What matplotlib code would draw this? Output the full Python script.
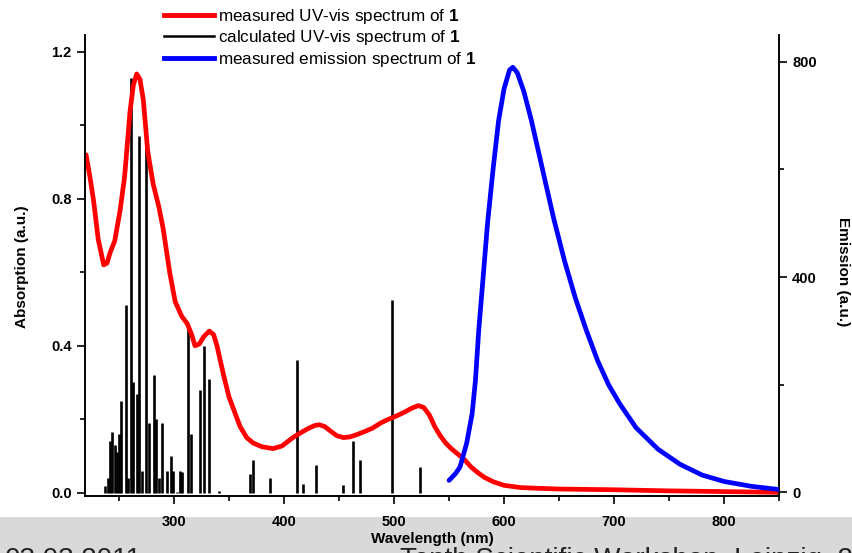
import numpy as np
import matplotlib
matplotlib.use("Agg")
import matplotlib.pyplot as plt
from matplotlib.lines import Line2D
from matplotlib.patches import Rectangle
from matplotlib.ticker import MultipleLocator

matplotlib.rcParams.update({'font.family': 'Liberation Sans',
                            'mathtext.fontset': 'custom',
                            'mathtext.rm': 'Liberation Sans',
                            'mathtext.bf': 'Liberation Sans:bold'})

# measured UV-vis (absorption)
uv_wl = [220, 224, 227, 231, 236, 239, 242, 246, 251, 255, 260, 263, 266, 269, 272,
         276, 281, 286, 290, 296, 301, 307, 312, 316, 319, 323, 327, 332, 336, 339,
         345, 350, 355, 360, 366, 372, 380, 390, 398, 408, 415, 422, 428, 432, 437,
         443, 448, 454, 460, 466, 472, 480, 488, 495, 503, 510, 516, 522, 527, 532,
         537, 542, 547, 552, 558, 564, 570, 576, 582, 590, 600, 615, 630, 650, 700,
         750, 800, 850]
uv_abs = [0.92, 0.85, 0.79, 0.69, 0.62, 0.625, 0.655, 0.685, 0.77, 0.86, 1.04, 1.11, 1.14,
          1.125, 1.07, 0.93, 0.84, 0.78, 0.72, 0.60, 0.52, 0.48, 0.46, 0.43, 0.40, 0.405,
          0.425, 0.44, 0.43, 0.40, 0.32, 0.26, 0.22, 0.18, 0.15, 0.135, 0.125, 0.12, 0.127,
          0.15, 0.163, 0.175, 0.183, 0.185, 0.18, 0.166, 0.155, 0.15, 0.152, 0.158, 0.165,
          0.175, 0.19, 0.20, 0.21, 0.22, 0.23, 0.237, 0.232, 0.212, 0.18, 0.155, 0.135,
          0.12, 0.105, 0.09, 0.07, 0.055, 0.042, 0.03, 0.02, 0.014, 0.012, 0.010, 0.008,
          0.005, 0.003, 0.001]

# calculated UV-vis (oscillator strengths, sticks)
calc_wl = [237, 240, 242, 244, 246, 248, 250, 252, 256, 258.5, 261, 263, 266, 268,
           270.6, 274.5, 277.5, 282, 284, 286, 289, 294, 297, 299.4, 303, 305.5, 307.6,
           312.4, 315, 323.6, 327.5, 332, 341, 369, 371.5, 387, 412, 417, 429, 454,
           463, 469, 498, 523.6]
calc_abs = [0.017, 0.04, 0.14, 0.165, 0.13, 0.11, 0.16, 0.25, 0.51, 0.04, 1.13, 0.30,
            0.27, 0.97, 0.06, 0.99, 0.19, 0.32, 0.20, 0.04, 0.19, 0.06, 0.10, 0.06,
            0.003, 0.06, 0.055, 0.46, 0.16, 0.28, 0.40, 0.31, 0.005, 0.05, 0.09, 0.04,
            0.36, 0.025, 0.075, 0.02, 0.14, 0.09, 0.525, 0.07]

# measured emission
em_wl = [550, 556, 560, 566, 571, 574, 577, 581, 585, 590, 595, 600, 605, 608, 612,
         618, 625, 635, 645, 655, 665, 675, 685, 695, 705, 720, 740, 760, 780, 800,
         825, 850]
em_int = [22, 35, 47, 91, 146, 208, 301, 400, 500, 600, 690, 750, 785, 790, 780, 745,
          690, 600, 510, 430, 360, 300, 245, 200, 165, 120, 80, 52, 32, 20, 11, 5]

fig = plt.figure(figsize=(8.53, 5.53), dpi=100)
# grey footer band of the slide
fig.patches.append(Rectangle((0, 0), 1, 36 / 553, transform=fig.transFigure,
                             facecolor='#d9d9d9', edgecolor='none', zorder=-5))

ax = fig.add_axes([85 / 853, 1 - 496 / 553, 694 / 853, 461 / 553])
ax.set_facecolor('white')
ax.vlines(calc_wl, 0, calc_abs, color='black', lw=1.9, zorder=2)
ax.plot(uv_wl, uv_abs, color='#ff0000', lw=3.4, solid_capstyle='round', zorder=3)
ax.set_xlim(219, 850)
ax.set_ylim(-0.009, 1.246)

ax2 = ax.twinx()
ax2.plot(em_wl, em_int, color='#0000ff', lw=3.4, solid_capstyle='round', zorder=3)
ax2.set_ylim(-7, 850)

for a in (ax, ax2):
    a.spines['top'].set_visible(False)
    for s in a.spines.values():
        s.set_linewidth(1.2)
    a.tick_params(which='major', direction='out', length=6, width=1.2, labelsize=10.5)
    a.tick_params(which='minor', direction='out', length=3.5, width=1.2)
ax.tick_params(axis='x', which='major', pad=8)

ax.xaxis.set_major_locator(MultipleLocator(100))
ax.xaxis.set_minor_locator(MultipleLocator(50))
ax.yaxis.set_major_locator(MultipleLocator(0.4))
ax.yaxis.set_minor_locator(MultipleLocator(0.2))
ax.yaxis.set_major_formatter(matplotlib.ticker.FormatStrFormatter('%.1f'))
ax2.yaxis.set_major_locator(MultipleLocator(400))
ax2.yaxis.set_minor_locator(MultipleLocator(200))
for lab in ax.get_xticklabels() + ax.get_yticklabels() + ax2.get_yticklabels():
    lab.set_fontweight('bold')

fig.text(22 / 853, 1 - 267 / 553, 'Absorption (a.u.)', rotation=90, ha='center',
         va='center', fontsize=11, fontweight='bold')
fig.text(843 / 853, 1 - 272 / 553, 'Emission (a.u.)', rotation=270, ha='center',
         va='center', fontsize=11, fontweight='bold')
fig.text(432 / 853, 1 - 539 / 553, 'Wavelength (nm)', ha='center', va='center',
         fontsize=11, fontweight='bold')

handles = [Line2D([], [], color='#ff0000', lw=3.5),
           Line2D([], [], color='black', lw=1.8),
           Line2D([], [], color='#0000ff', lw=3.5)]
labels = [r'measured UV-vis spectrum of $\mathbf{1}$',
          r'calculated UV-vis spectrum of $\mathbf{1}$',
          r'measured emission spectrum of $\mathbf{1}$']
fig.legend(handles, labels, loc='upper left', bbox_to_anchor=(161 / 853, 1 - 4 / 553),
           frameon=False, fontsize=12.3, handlelength=2.9, handletextpad=0.25,
           labelspacing=0.12, borderaxespad=0, borderpad=0.2)

# footer line of the slide, cut at the lower edge as in the original
fig.text(5 / 853, 6 / 553, '03.03.2011', ha='left', va='top', fontsize=20, color='#222222')
fig.text(400 / 853, 6 / 553, 'Tenth Scientific Workshop, Leipzig  2012', ha='left',
         va='top', fontsize=20, color='#222222')

fig.savefig('out.png', dpi=100)
